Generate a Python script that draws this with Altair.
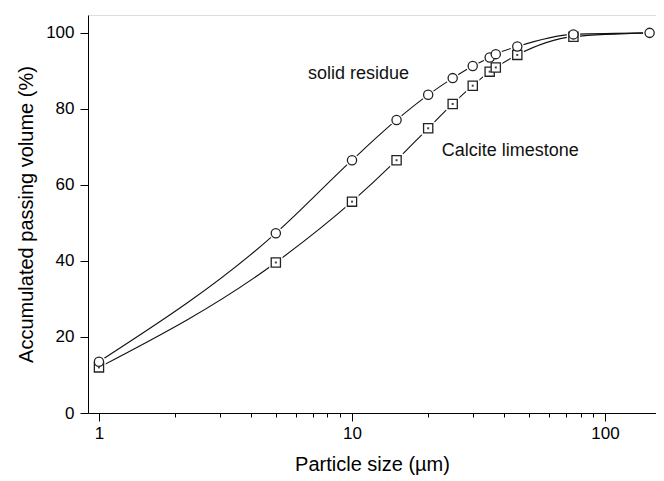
import altair as alt
import pandas as pd

# Data
sizes = [1, 5, 10, 15, 20, 25, 30, 35, 37, 45, 75, 150]
solid_residue = [13.5, 47.3, 66.5, 77.1, 83.7, 88.1, 91.3, 93.5, 94.4, 96.4, 99.6, 100.0]
calcite_limestone = [12.0, 39.6, 55.6, 66.5, 74.9, 81.3, 86.1, 89.8, 90.9, 94.2, 99.0, 100.0]
series_names = ["Calcite limestone", "solid residue"]

label_texts = ["solid residue", "Calcite limestone"]
label_x = [10.6, 42.2]
label_y = [89.3, 68.9]

x_ticks = [1, 2, 3, 4, 5, 6, 7, 8, 9, 10, 20, 30, 40, 50, 60, 70, 80, 90, 100]
y_ticks = [0, 10, 20, 30, 40, 50, 60, 70, 80, 90, 100]

rows = []
for s, vals in zip(series_names, [calcite_limestone, solid_residue]):
    for x, y in zip(sizes, vals):
        rows.append({"size": x, "value": y, "series": s})
df = pd.DataFrame(rows)
df["draw"] = range(len(df))
labels_df = pd.DataFrame({"text": label_texts, "x": label_x, "y": label_y})

FONT = "Liberation Sans"

x_scale = alt.Scale(type="log", domain=[0.905, 159], nice=False)
y_scale = alt.Scale(domain=[0, 104.7], nice=False, zero=False)

x_axis = alt.Axis(
    values=x_ticks,
    labelExpr="(datum.value == 1 || datum.value == 10 || datum.value == 100) ? format(datum.value, 'd') : ''",
    tickSize={"condition": {"test": "datum.value == 1 || datum.value == 10 || datum.value == 100", "value": 8}, "value": 4},
    labelOverlap=False,
    labelFlush=False,
    grid=False,
    domainColor="black",
    tickColor="black",
    labelColor="black",
    titleColor="black",
    labelFont=FONT,
    titleFont=FONT,
    labelFontSize=17,
    titleFontSize=20,
    titleFontWeight="normal",
    labelPadding=4,
    titlePadding=13,
    title="Particle size (µm)",
)

y_axis = alt.Axis(
    values=y_ticks,
    labelExpr="(datum.value % 20 == 0) ? format(datum.value, 'd') : ''",
    tickSize={"condition": {"test": "datum.value % 20 == 0", "value": 8}, "value": 4},
    labelOverlap=False,
    labelFlush=False,
    grid=False,
    domainColor="black",
    tickColor="black",
    labelColor="black",
    titleColor="black",
    labelFont=FONT,
    titleFont=FONT,
    labelFontSize=17,
    titleFontSize=20,
    titleFontWeight="normal",
    labelPadding=6,
    titlePadding=9,
    title="Accumulated passing volume (%)",
)

base = alt.Chart(df)

lines = base.mark_line(interpolate="monotone", color="#111111", strokeWidth=1.1).encode(
    x=alt.X("size:Q", scale=x_scale, axis=x_axis),
    y=alt.Y("value:Q", scale=y_scale, axis=y_axis),
    detail="series:N",
    order="size:Q",
)

shape_scale = alt.Scale(domain=["solid residue", "Calcite limestone"], range=["circle", "square"])

# the last limestone square is hidden under the residue circle in the reference
visible = ~((alt.datum.series == "Calcite limestone") & (alt.datum.size > 100))

gaps = base.transform_filter(visible).mark_point(
    filled=True, fill="white", stroke="white", strokeWidth=4, size=85, opacity=1
).encode(
    x=alt.X("size:Q", scale=x_scale),
    y=alt.Y("value:Q", scale=y_scale),
    shape=alt.Shape("series:N", scale=shape_scale, legend=None),
    order="draw:Q",
)

points = base.transform_filter(visible).mark_point(
    filled=False, fill="white", stroke="#222222", strokeWidth=1.3, size=85, opacity=1, fillOpacity=1
).encode(
    x=alt.X("size:Q", scale=x_scale),
    y=alt.Y("value:Q", scale=y_scale),
    shape=alt.Shape("series:N", scale=shape_scale, legend=None),
    order="draw:Q",
)

dots = base.transform_filter(
    (alt.datum.series == "Calcite limestone") & (alt.datum.size < 70)
).mark_point(filled=True, color="#444444", shape="square", size=4, opacity=1).encode(
    x=alt.X("size:Q", scale=x_scale),
    y=alt.Y("value:Q", scale=y_scale),
)

texts = alt.Chart(labels_df).mark_text(font=FONT, fontSize=18, color="#111111", align="center", baseline="middle").encode(
    x=alt.X("x:Q", scale=x_scale),
    y=alt.Y("y:Q", scale=y_scale),
    text="text:N",
)

chart = alt.layer(lines, gaps, points, dots, texts).properties(
    width=568,
    height=398,
    padding={"left": 80, "top": 7, "right": 0, "bottom": 68},
    autosize=alt.AutoSizeParams(type="none"),
).configure_view(stroke=None).configure(background="white")

chart.save("out.html", embed_options={"renderer": "svg", "actions": False})
